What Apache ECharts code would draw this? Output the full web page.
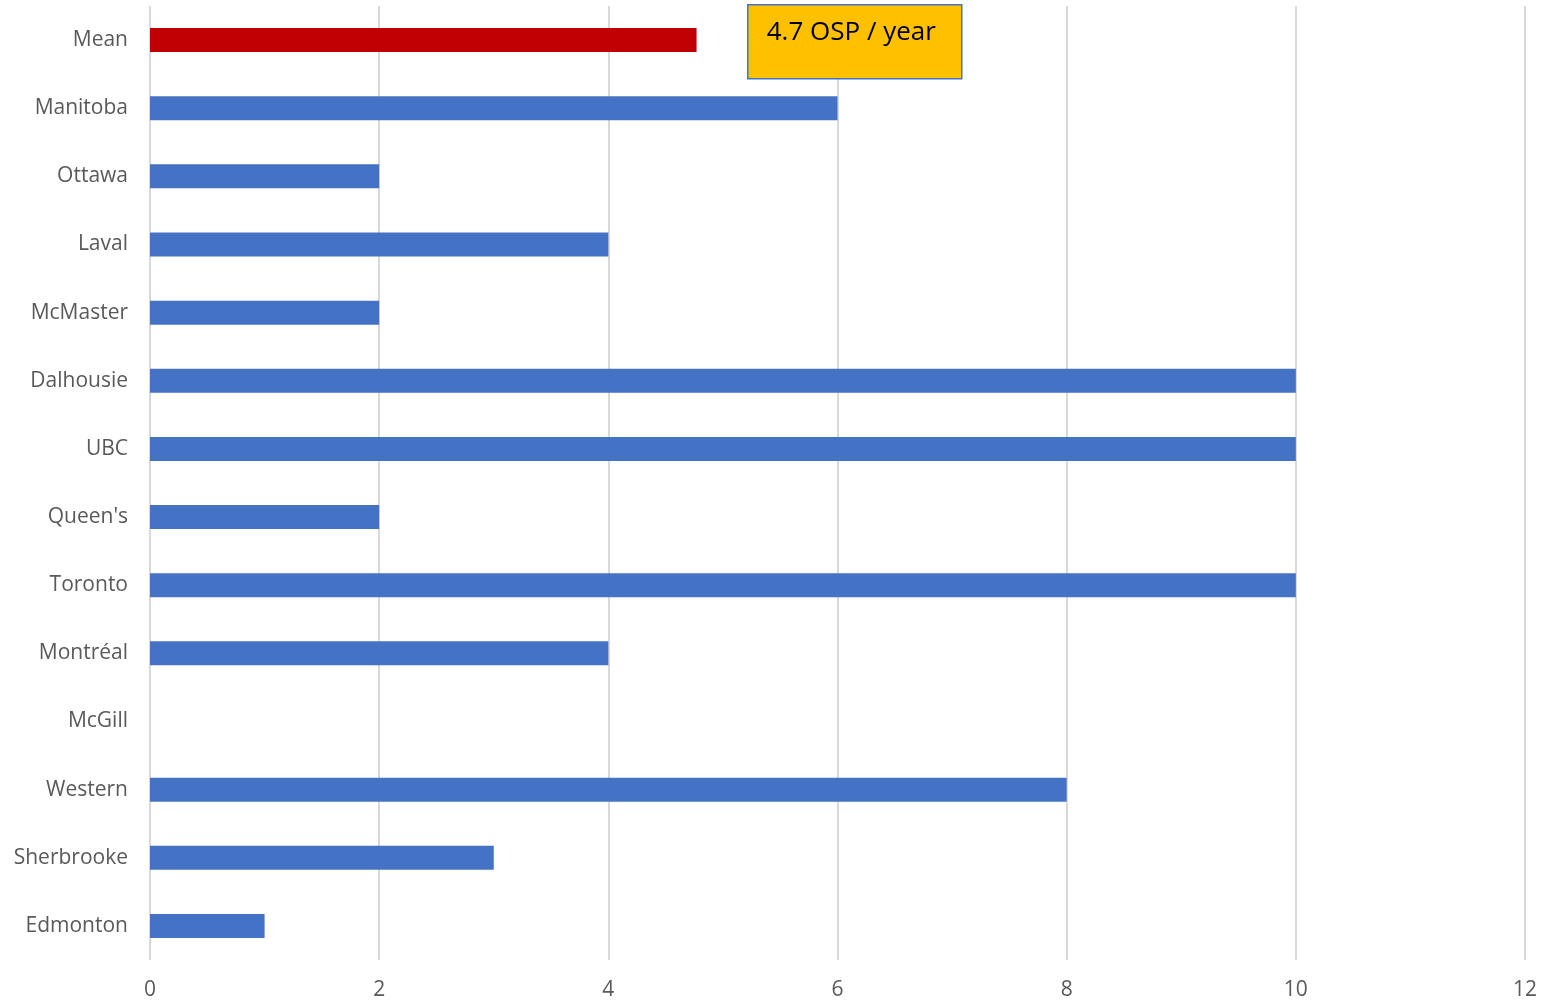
<!DOCTYPE html>
<html>
<head>
<meta charset="utf-8">
<script src="https://cdn.jsdelivr.net/npm/echarts@6/dist/echarts.min.js"></script>
<style>html,body{margin:0;padding:0;background:#fff;}#c{width:1555px;height:1003px;}</style>
</head>
<body>
<div id="c"></div>
<script>
const categories = ["Mean","Manitoba","Ottawa","Laval","McMaster","Dalhousie","UBC","Queen's","Toronto","Montréal","McGill","Western","Sherbrooke","Edmonton"];
const values = [4.77, 6, 2, 4, 2, 10, 10, 2, 10, 4, 0, 8, 3, 1];
const xTicks = [0, 2, 4, 6, 8, 10, 12];
const annotationText = "4.7 OSP / year";

const chart = echarts.init(document.getElementById('c'), null, {renderer: 'canvas'});
const font = '"Open Sans", "Noto Sans", sans-serif';
chart.setOption({
  animation: false,
  backgroundColor: '#ffffff',
  grid: {left: 150, right: 30, top: 6, bottom: 43, containLabel: false},
  xAxis: {
    type: 'value', min: xTicks[0], max: xTicks[xTicks.length-1], interval: 2,
    axisLine: {show: false}, axisTick: {show: false},
    splitLine: {show: true, lineStyle: {color: '#D9D9D9', width: 2}},
    axisLabel: {color: '#595959', fontSize: 21, fontFamily: font, margin: 20}
  },
  yAxis: {
    type: 'category', data: categories, inverse: true,
    axisLine: {show: false}, axisTick: {show: false},
    axisLabel: {color: '#595959', fontSize: 21, fontFamily: font, margin: 22, padding: [7, 0, 0, 0]}
  },
  series: [{
    type: 'bar', barWidth: 24,
    data: values.map((v, i) => ({value: v, itemStyle: {color: i === 0 ? '#C00000' : '#4472C4'}}))
  }],
  graphic: [{
    type: 'group', left: 747, top: 4, z: 100,
    children: [
      {type: 'rect', z: 100, shape: {x: 0, y: 0, width: 214, height: 74}, style: {fill: '#FFC000', stroke: '#4472C4', lineWidth: 1.5}},
      {type: 'text', z: 101, x: 19, y: 15, style: {text: annotationText, fill: '#000', font: '26px ' + font}}
    ]
  }]
});
</script>
</body>
</html>
